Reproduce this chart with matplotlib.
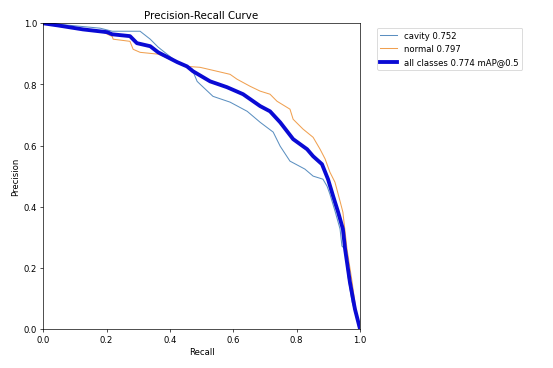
import matplotlib
matplotlib.use("Agg")
import matplotlib.pyplot as plt

# recall / precision points
cavity_r = [0.0, 0.047, 0.18, 0.218, 0.306, 0.338, 0.363, 0.391, 0.432, 0.470, 0.486, 0.495,
            0.536, 0.590, 0.644, 0.685, 0.726, 0.748, 0.779, 0.826, 0.852, 0.883, 0.896,
            0.905, 0.921, 0.937, 0.943, 0.953, 0.962, 0.975, 0.991, 1.0]
cavity_p = [1.0, 0.997, 0.984, 0.974, 0.974, 0.948, 0.922, 0.899, 0.866, 0.850, 0.810, 0.801,
            0.761, 0.742, 0.712, 0.676, 0.644, 0.598, 0.549, 0.523, 0.500, 0.490, 0.467,
            0.441, 0.386, 0.327, 0.271, 0.261, 0.173, 0.088, 0.033, 0.0]

normal_r = [0.0, 0.047, 0.18, 0.218, 0.221, 0.274, 0.284, 0.306, 0.363, 0.401, 0.454, 0.495,
            0.549, 0.590, 0.612, 0.653, 0.685, 0.716, 0.738, 0.779, 0.789, 0.820, 0.852,
            0.874, 0.890, 0.905, 0.921, 0.937, 0.946, 0.959, 0.975, 0.994, 1.0]
normal_p = [1.0, 0.99, 0.975, 0.957, 0.948, 0.941, 0.915, 0.905, 0.899, 0.882, 0.859, 0.856,
            0.843, 0.833, 0.817, 0.794, 0.778, 0.768, 0.745, 0.719, 0.686, 0.654, 0.627,
            0.588, 0.556, 0.513, 0.480, 0.418, 0.382, 0.261, 0.154, 0.010, 0.0]

all_r = [0.0, 0.047, 0.126, 0.202, 0.218, 0.274, 0.296, 0.338, 0.363, 0.423, 0.454, 0.473,
         0.527, 0.580, 0.631, 0.685, 0.716, 0.748, 0.789, 0.833, 0.852, 0.880, 0.899,
         0.915, 0.931, 0.946, 0.953, 0.968, 0.984, 1.0]
all_p = [1.0, 0.993, 0.980, 0.971, 0.964, 0.958, 0.935, 0.925, 0.905, 0.873, 0.859, 0.843,
         0.810, 0.791, 0.768, 0.729, 0.712, 0.676, 0.621, 0.588, 0.565, 0.539, 0.490,
         0.435, 0.382, 0.327, 0.261, 0.154, 0.065, 0.0]

labels = ["cavity 0.752", "normal 0.797", "all classes 0.774 mAP@0.5"]

fig, ax = plt.subplots(1, 1, figsize=(9, 6), dpi=553 / 9)
fig.subplots_adjust(left=0.078, right=0.651, bottom=0.106, top=0.935)

ax.plot(cavity_r, cavity_p, linewidth=1.2, color="#5b8fc0", label=labels[0])
ax.plot(normal_r, normal_p, linewidth=1.2, color="#f0a050", label=labels[1])
ax.plot(all_r, all_p, linewidth=4.5, color="#0a0ad4", label=labels[2])

ax.set_xlabel("Recall")
ax.set_ylabel("Precision")
ax.set_xlim(0, 1)
ax.set_ylim(0, 1)
ax.legend(bbox_to_anchor=(1.04, 1), loc="upper left")
ax.set_title("Precision-Recall Curve")
fig.savefig("out.png", dpi=553 / 9)
plt.close()
